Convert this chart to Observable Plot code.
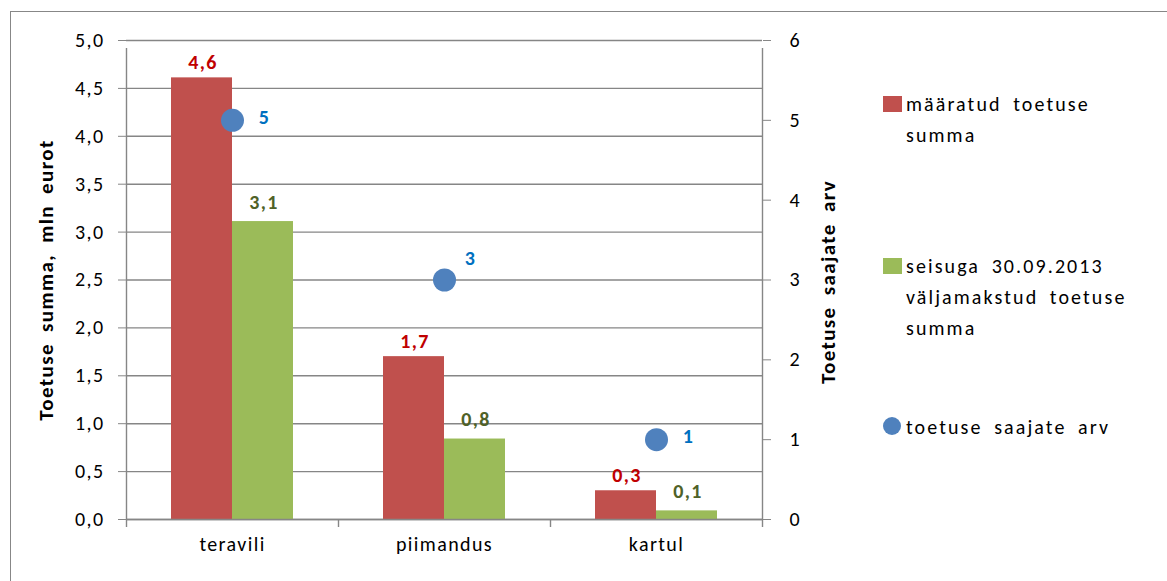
<!DOCTYPE html>
<html>
<head>
<meta charset="utf-8">
<script src="https://cdn.jsdelivr.net/npm/d3@7"></script>
<script src="https://cdn.jsdelivr.net/npm/@observablehq/plot@0.6"></script>
<style>
  body { margin: 0; background: #fff; }
  #wrap { position: relative; width: 1167px; height: 581px; overflow: hidden; background: #fff;
          font-family: Carlito, Calibri, Lato, "Open Sans", sans-serif; }
  #border { position: absolute; left: 10px; top: 11px; width: 1300px; height: 700px;
            border-left: 1.5px solid #878787; border-top: 1.5px solid #878787; }
  #chart { position: absolute; left: 0; top: 0; }
  #chart svg text { letter-spacing: 1.4px; word-spacing: 5px; }
  .lg-sw { position: absolute; }
  .lg-tx { position: absolute; font-size: 20px; line-height: 31px; color: #000; white-space: nowrap;
           letter-spacing: 2.1px; word-spacing: 5px; }
</style>
</head>
<body>
<div id="wrap">
  <div id="border"></div>
  <div id="chart"></div>
  <div id="legend"></div>
</div>
<script>
// ---- data ----
const categories = ["teravili", "piimandus", "kartul"];
const assignedSum = [4.61, 1.70, 0.30];   // määratud toetuse summa, mln eurot
const paidSum = [3.11, 0.84, 0.09];       // seisuga 30.09.2013 väljamakstud toetuse summa
const recipients = [5, 3, 1];             // toetuse saajate arv (right axis)
const leftTicks = [0, 0.5, 1, 1.5, 2, 2.5, 3, 3.5, 4, 4.5, 5];
const rightTicks = [0, 1, 2, 3, 4, 5, 6];
const seriesNames = ["määratud toetuse summa", "seisuga 30.09.2013 väljamakstud toetuse summa", "toetuse saajate arv"];
const leftTitle = "Toetuse summa, mln eurot";
const rightTitle = "Toetuse saajate arv";

// ---- layout / style ----
const W = 1167, H = 581;
const mL = 126, mR = 405, mT = 40, mB = 62;
const bandHalf = (W - mL - mR) / categories.length / 2;
const barW = 61;
const k = 5 / 6; // right-axis units -> left-axis units
const red = "#C0504D", green = "#9BBB59", blue = "#4F81BD", gridC = "#868686";
const font = "Carlito, Calibri, Lato, 'Open Sans', sans-serif";
const fs = 20;
const fmt1 = v => v.toFixed(1).replace(".", ",");

const rows = categories.map((c, i) => ({cat: c, a: assignedSum[i], p: paidSum[i], n: recipients[i]}));
const raisedLabel = new Set(["piimandus"]);

const chart = Plot.plot({
  width: W, height: H,
  marginLeft: mL, marginRight: mR, marginTop: mT, marginBottom: mB,
  style: {fontFamily: font, fontSize: fs + "px", color: "#000", background: "transparent"},
  x: {domain: categories, padding: 0, axis: null},
  y: {domain: [0, 5], axis: null},
  marks: [
    Plot.gridY(leftTicks, {stroke: gridC, strokeOpacity: 1, strokeWidth: 1.4}),
    Plot.barY(rows, {x: "cat", y: "a", fill: red, insetLeft: bandHalf - barW, insetRight: bandHalf}),
    Plot.barY(rows, {x: "cat", y: "p", fill: green, insetLeft: bandHalf, insetRight: bandHalf - barW}),
    // baseline and category separator ticks
    Plot.ruleY([0], {stroke: gridC, strokeWidth: 1.4}),
    Plot.ruleX(categories, {x: d => d, dx: -bandHalf, y1: 0, y2: 0, insetBottom: -8, stroke: gridC, strokeWidth: 1.4}),
    Plot.ruleX([categories[categories.length - 1]], {x: d => d, dx: bandHalf, y1: 0, y2: 0, insetBottom: -8, stroke: gridC, strokeWidth: 1.4}),
    // axis lines
    Plot.ruleX([categories[0]], {x: d => d, dx: -bandHalf, y1: 0, y2: 5, insetBottom: -8, stroke: gridC, strokeWidth: 1.4}),
    Plot.ruleX([categories[categories.length - 1]], {x: d => d, dx: bandHalf, y1: 0, y2: 5, insetBottom: -8, stroke: gridC, strokeWidth: 1.4}),
    // left axis
    Plot.axisY(leftTicks, {anchor: "left", label: null, tickSize: 8, tickPadding: 14, tickFormat: fmt1, stroke: gridC, fontSize: fs}),
    // right axis (recipients)
    Plot.axisY(rightTicks.map(d => d * k), {anchor: "right", label: null, tickSize: 8, tickPadding: 19, tickFormat: v => String(Math.round(v / k)), stroke: gridC, fontSize: fs}),
    // category labels
    Plot.axisX({label: null, tickSize: 0, tickPadding: 17, fontSize: fs}),
    // axis titles
    Plot.text([leftTitle], {frameAnchor: "left", dx: -80, rotate: -90, textAnchor: "middle", fontWeight: "bold", fontSize: 21, fill: "#000"}),
    Plot.text([rightTitle], {frameAnchor: "right", dx: 66, dy: 2, rotate: -90, textAnchor: "middle", fontWeight: "bold", fontSize: 21, fill: "#000"}),
    // bar value labels
    Plot.text(rows, {x: "cat", y: "a", text: d => fmt1(d.a), dx: -barW / 2 + 1, dy: -9, lineAnchor: "bottom", fill: "#C00000", fontWeight: "bold", fontSize: fs}),
    Plot.text(rows, {x: "cat", y: "p", text: d => fmt1(d.p), dx: barW / 2 + 1, dy: -13, lineAnchor: "bottom", fill: "#4F6228", fontWeight: "bold", fontSize: fs}),
    // recipients dots
    Plot.dot(rows, {x: "cat", y: d => d.n * k, r: 11.5, fill: blue, stroke: "none"}),
    Plot.text(rows.filter(d => !raisedLabel.has(d.cat)), {x: "cat", y: d => d.n * k, text: d => String(d.n), dx: 32, dy: -3, fill: "#0070C0", fontWeight: "bold", fontSize: fs}),
    Plot.text(rows.filter(d => raisedLabel.has(d.cat)), {x: "cat", y: d => d.n * k, text: d => String(d.n), dx: 26, dy: -21, fill: "#0070C0", fontWeight: "bold", fontSize: fs})
  ]
});
document.getElementById("chart").appendChild(chart);

// ---- legend ----
const legend = document.getElementById("legend");
const items = [
  {lines: ["määratud toetuse", "summa"], color: red, shape: "rect", swTop: 96, txTop: 89},
  {lines: ["seisuga 30.09.2013", "väljamakstud toetuse", "summa"], color: green, shape: "rect", swTop: 258, txTop: 251},
  {lines: ["toetuse saajate arv"], color: blue, shape: "circle", swTop: 417, txTop: 412}
];
items.forEach((it, i) => {
  const sw = document.createElement("div");
  sw.className = "lg-sw";
  sw.style.left = "883px";
  sw.style.top = it.swTop + "px";
  sw.style.background = it.color;
  if (it.shape === "rect") { sw.style.width = "19px"; sw.style.height = "16px"; }
  else { sw.style.width = "18px"; sw.style.height = "18px"; sw.style.borderRadius = "50%"; }
  legend.appendChild(sw);
  const tx = document.createElement("div");
  tx.className = "lg-tx";
  tx.style.left = "906px";
  tx.style.top = it.txTop + "px";
  tx.innerHTML = it.lines.join("<br>");
  tx.title = seriesNames[i];
  legend.appendChild(tx);
});
</script>
</body>
</html>
